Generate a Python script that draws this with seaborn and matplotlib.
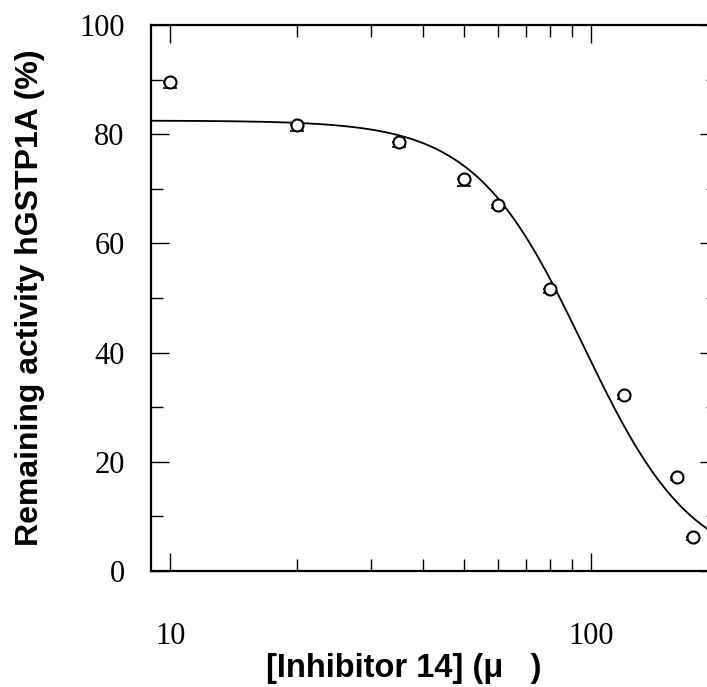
import numpy as np
import pandas as pd
import matplotlib
matplotlib.use("Agg")
import matplotlib.pyplot as plt
import seaborn as sns
from matplotlib.ticker import FixedLocator, NullFormatter, FixedFormatter

# Measured remaining activity of hGSTP1A versus inhibitor concentration
conc = [10, 20, 35, 50, 60, 80, 120, 160, 175]
activity = [89.6, 81.6, 78.5, 71.8, 67.1, 51.7, 32.2, 17.3, 6.3]
err_low = [1.2, 1.1, 0.8, 1.2, 0.7, 0.8, 0.7, 0.7, 0.6]

# Dose-response (Hill) fit parameters
fit_top = 82.5
fit_bottom = 0.0
fit_ic50 = 96.0
fit_hill = 3.35

x_ticks = [10, 100]
x_ticklabels = ["10", "100"]
y_ticks = [0, 20, 40, 60, 80, 100]

df = pd.DataFrame({"conc": conc, "activity": activity})
xs = np.logspace(np.log10(9), np.log10(200), 400)
fit_df = pd.DataFrame({
    "conc": xs,
    "activity": fit_bottom + (fit_top - fit_bottom) / (1 + (xs / fit_ic50) ** fit_hill),
})

sns.set_theme(style="ticks")
plt.rcParams["font.family"] = ["DejaVu Sans"]
plt.rcParams["text.color"] = "black"
plt.rcParams["axes.labelcolor"] = "black"

fig = plt.figure(figsize=(7.07, 6.87), dpi=100)
ax = fig.add_axes([151 / 707, 116 / 687, 566.5 / 707, 546 / 687])
ax.set_xscale("log")

sns.lineplot(data=fit_df, x="conc", y="activity", ax=ax, color="black", lw=1.3,
             zorder=2)
ax.errorbar(conc, activity, yerr=[err_low, [0] * len(conc)], fmt="none",
            ecolor="black", elinewidth=1.0, capsize=5, capthick=1.2, zorder=3)
sns.scatterplot(data=df, x="conc", y="activity", ax=ax, marker="o", s=75,
                facecolor="white", edgecolor="black", linewidth=1.5, zorder=4)

ax.set_xlim(9, 200)
ax.set_ylim(0, 100)

ax.xaxis.set_major_locator(FixedLocator(x_ticks))
ax.xaxis.set_major_formatter(FixedFormatter(x_ticklabels))
ax.xaxis.set_minor_locator(FixedLocator([20, 30, 40, 50, 60, 70, 80, 90, 200]))
ax.xaxis.set_minor_formatter(NullFormatter())
ax.yaxis.set_major_locator(FixedLocator(y_ticks))
ax.yaxis.set_minor_locator(FixedLocator([10, 30, 50, 70, 90]))

ax.tick_params(which="both", direction="in", top=True, right=True,
               colors="black", labelcolor="black", width=1.0)
ax.tick_params(which="major", length=13)
ax.tick_params(which="minor", length=8.5)
ax.tick_params(axis="x", which="major", pad=37)
ax.tick_params(axis="y", which="major", pad=19)
for lab in ax.get_xticklabels() + ax.get_yticklabels():
    lab.set_family("Liberation Serif")
    lab.set_fontsize(22)
    lab.set_color("black")

for sp in ax.spines.values():
    sp.set_linewidth(1.6)
    sp.set_color("black")

ax.set_xlabel("[Inhibitor 14] (μ   )", fontsize=23.5, fontweight="bold",
              family="Liberation Sans", color="black")
ax.set_ylabel("Remaining activity hGSTP1A (%)", fontsize=23, fontweight="bold",
              family="Liberation Sans", color="black")
ax.xaxis.set_label_coords((403.5 - 151) / 566.5, (571 - 668) / 546)
ax.xaxis.label.set_va("center")
ax.yaxis.set_label_coords((30 - 151) / 566.5, (571 - 298) / 546)
ax.yaxis.label.set_va("center")

fig.savefig("out.png", dpi=100)
